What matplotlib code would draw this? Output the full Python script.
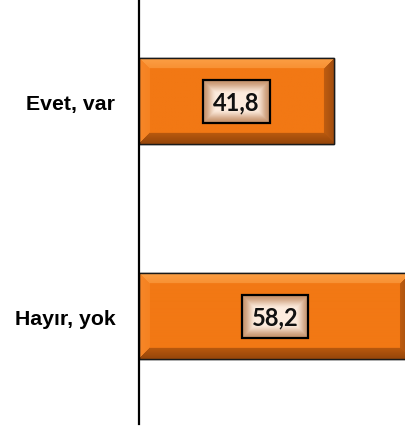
import numpy as np
import matplotlib
matplotlib.use("Agg")
import matplotlib.pyplot as plt

# data
categories = ['Hayır, yok', 'Evet, var']
values = [58.2, 41.8]
value_labels = ['58,2', '41,8']

W, H = 406, 427
fig = plt.figure(figsize=(W / 100, H / 100), dpi=100)
ax = fig.add_axes([139 / W, 2 / H, 1 - 139 / W, 425 / H])

ypos = np.arange(len(categories))
bars = ax.barh(ypos, values, height=0.4, color='#F27814',
               edgecolor='#1a1a1a', linewidth=1.0, zorder=2)

ax.set_xlim(0, 57.2)
ax.set_ylim(-0.5, 1.4767)


def bevel_img(wpx, hpx, b=11):
    # bevel shading: top light, bottom dark, right dark, left a bit light
    yy, xx = np.mgrid[0:hpx, 0:wpx]
    dist = np.stack([yy, hpx - 1 - yy, xx, wpx - 1 - xx])
    which = np.argmin(dist, axis=0)
    mind = np.min(dist, axis=0)
    centre = np.array([242, 120, 20]) / 255
    img = np.zeros((hpx, wpx, 3))
    img[:] = centre
    cols = np.array([[252, 160, 70], [150, 70, 10], [247, 135, 40], [160, 76, 14]]) / 255
    inb = mind < b
    for k in range(4):
        m = inb & (which == k)
        t = (mind[m] / b)[:, None]
        img[m] = cols[k] * (1 - 0.4 * t) + centre * 0.4 * t
    return img


def box_img(wpx, hpx):
    yy, xx = np.mgrid[0:hpx, 0:wpx]
    dx = np.minimum(xx, wpx - 1 - xx) / (wpx / 2)
    dy = np.minimum(yy, hpx - 1 - yy) / (hpx / 2)
    t = np.clip(np.minimum(dx * wpx / hpx, dy) * 1.6, 0, 1)
    t = t * t * (3 - 2 * t)
    edge = np.array([200, 150, 112]) / 255
    cen = np.array([253, 236, 222]) / 255
    return edge + (cen - edge) * t[..., None]


fig.canvas.draw()
for rect in bars:
    x0, y0 = rect.get_x(), rect.get_y()
    w, h = rect.get_width(), rect.get_height()
    p0 = ax.transData.transform((x0, y0))
    p1 = ax.transData.transform((x0 + w, y0 + h))
    wpx = int(round(p1[0] - p0[0]))
    hpx = int(round(p1[1] - p0[1]))
    im = ax.imshow(bevel_img(wpx, hpx), extent=(x0, x0 + w, y0, y0 + h),
                   aspect='auto', zorder=2.5, interpolation='bilinear')
    im.set_clip_path(rect)
    ax.add_patch(plt.Rectangle((x0, y0), w, h, fill=False, edgecolor='#1a1a1a',
                               linewidth=1.0, zorder=3))

texts = []
for i, rect in enumerate(bars):
    t = ax.text(values[i] / 2, ypos[i], value_labels[i], ha='center', va='center',
                fontsize=17, fontweight='bold', family='Lato', color='#111111', zorder=5,
                bbox=dict(boxstyle='square,pad=0.42', facecolor='none',
                          edgecolor='black', linewidth=1.6))
    texts.append(t)

ax.set_xlim(0, 57.2)
ax.set_ylim(-0.5, 1.4767)
ax.set_yticks(ypos)
ax.set_yticklabels(categories, fontsize=15.3, fontweight='bold', family='Liberation Sans')
ax.tick_params(axis='y', length=0, pad=17)
ax.set_xticks([])
for s in ['top', 'right', 'bottom']:
    ax.spines[s].set_visible(False)
ax.spines['left'].set_linewidth(1.6)
ax.spines['left'].set_color('black')
ax.spines['left'].set_zorder(6)

fig.canvas.draw()
inv = ax.transData.inverted()
for t in texts:
    bb = t.get_bbox_patch().get_window_extent()
    (ex0, ey0) = inv.transform((bb.x0, bb.y0))
    (ex1, ey1) = inv.transform((bb.x1, bb.y1))
    ax.imshow(box_img(int(bb.width), int(bb.height)), extent=(ex0, ex1, ey0, ey1),
              aspect='auto', zorder=4, interpolation='bilinear')

ax.set_xlim(0, 57.2)
ax.set_ylim(-0.5, 1.4767)
fig.savefig('out.png', dpi=100)
